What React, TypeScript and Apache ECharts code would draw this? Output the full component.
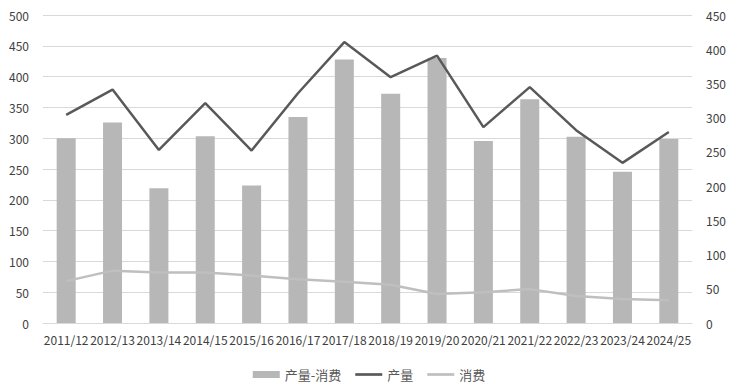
import React, { useEffect, useRef } from "react";
import * as echarts from "echarts";

const categories = [
  "2011/12", "2012/13", "2013/14", "2014/15", "2015/16", "2016/17", "2017/18",
  "2018/19", "2019/20", "2020/21", "2021/22", "2022/23", "2023/24", "2024/25",
];
const surplus = [270, 293, 197, 273, 201, 301, 385, 335, 387, 266, 327, 272, 221, 269];
const production = [338, 379, 281, 357, 280, 373, 456, 399, 434, 318, 383, 313, 260, 310];
const consumption = [68, 85, 82, 82, 77, 71, 67, 62, 47, 50, 55, 44, 39, 37];

const FONT = "'Noto Sans CJK SC', 'Noto Sans', sans-serif";
const LINE_ICON = "path://M0,0 L30,0 L30,3 L0,3 Z";

export default function App() {
  const ref = useRef<HTMLDivElement>(null);
  useEffect(() => {
    if (!ref.current) return;
    const chart = echarts.init(ref.current, undefined, { renderer: "svg" });
    chart.setOption({
      animation: false,
      textStyle: { fontFamily: FONT },
      grid: { left: 43, right: 46, top: 15, bottom: 67, containLabel: false },
      legend: {
        bottom: 4,
        left: "center",
        itemWidth: 27,
        itemHeight: 7,
        itemGap: 14,
        textStyle: { color: "#595959", fontSize: 13, fontFamily: FONT },
        data: [
          { name: "产量-消费", icon: "rect" },
          { name: "产量", icon: LINE_ICON },
          { name: "消费", icon: LINE_ICON },
        ],
      },
      xAxis: {
        type: "category",
        data: categories,
        axisLine: { show: true, lineStyle: { color: "#d9d9d9" } },
        axisTick: { show: false },
        axisLabel: { interval: 0, color: "#404040", fontSize: 12, margin: 10, fontFamily: FONT },
      },
      yAxis: [
        {
          type: "value",
          min: 0,
          max: 500,
          interval: 50,
          position: "left",
          axisLine: { show: false },
          axisTick: { show: false },
          axisLabel: { color: "#404040", fontSize: 12, margin: 14, fontFamily: FONT },
          splitLine: { lineStyle: { color: "#d9d9d9", width: 1 } },
        },
        {
          type: "value",
          min: 0,
          max: 450,
          interval: 50,
          position: "right",
          axisLine: { show: false },
          axisTick: { show: false },
          axisLabel: { color: "#404040", fontSize: 12, margin: 14, fontFamily: FONT },
          splitLine: { show: false },
        },
      ],
      series: [
        {
          name: "产量-消费",
          type: "bar",
          yAxisIndex: 1,
          data: surplus,
          barWidth: "41%",
          itemStyle: { color: "#b7b7b7" },
        },
        {
          name: "产量",
          type: "line",
          yAxisIndex: 0,
          data: production,
          symbol: "none",
          lineStyle: { color: "#595959", width: 2.5 },
          itemStyle: { color: "#595959" },
        },
        {
          name: "消费",
          type: "line",
          yAxisIndex: 0,
          data: consumption,
          symbol: "none",
          lineStyle: { color: "#bfbfbf", width: 2.5 },
          itemStyle: { color: "#bfbfbf" },
        },
      ],
    });
    return () => chart.dispose();
  }, []);
  return (
    <div
      ref={ref}
      style={{ position: "absolute", left: 0, top: 0, width: 738, height: 390 }}
    />
  );
}
